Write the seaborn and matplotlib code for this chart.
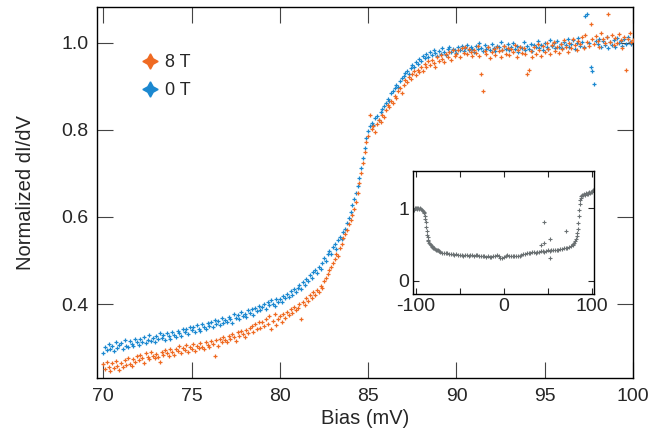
import numpy as np
import matplotlib
matplotlib.use("Agg")
import matplotlib.pyplot as plt
import seaborn as sns
from matplotlib.lines import Line2D
from matplotlib.ticker import FixedLocator

sns.set_style("ticks")
plt.rcParams["font.family"] = ["Liberation Sans", "DejaVu Sans"]

# ── Data ────────────────────────────────────────────────────────────────────
# bias sweep, 70 → 100 mV in 0.1 mV steps (301 samples)
bias = np.round(np.linspace(70.0, 100.0, 301), 1)

didv_0T = [
    0.288, 0.301, 0.294, 0.309, 0.297, 0.305, 0.292, 0.313, 0.300, 0.306,
    0.310, 0.298, 0.318, 0.305, 0.302, 0.316, 0.309, 0.304, 0.319, 0.312,
    0.307, 0.321, 0.314, 0.325, 0.311, 0.318, 0.329, 0.315, 0.322, 0.312,
    0.326, 0.319, 0.334, 0.322, 0.330, 0.318, 0.333, 0.326, 0.321, 0.337,
    0.330, 0.325, 0.339, 0.333, 0.327, 0.342, 0.336, 0.344, 0.332, 0.348,
    0.340, 0.347, 0.336, 0.352, 0.344, 0.339, 0.355, 0.348, 0.343, 0.357,
    0.350, 0.358, 0.347, 0.363, 0.354, 0.361, 0.352, 0.368, 0.357, 0.364,
    0.360, 0.371, 0.365, 0.357, 0.377, 0.368, 0.374, 0.366, 0.381, 0.373,
    0.378, 0.370, 0.386, 0.380, 0.389, 0.376, 0.392, 0.384, 0.396, 0.387,
    0.393, 0.400, 0.389, 0.405, 0.397, 0.409, 0.401, 0.395, 0.412, 0.406,
    0.411, 0.404, 0.419, 0.414, 0.424, 0.417, 0.429, 0.422, 0.434, 0.427,
    0.437, 0.445, 0.434, 0.451, 0.444, 0.458, 0.452, 0.466, 0.461, 0.473,
    0.478, 0.472, 0.486, 0.481, 0.495, 0.505, 0.499, 0.514, 0.522, 0.516,
    0.530, 0.538, 0.527, 0.546, 0.555, 0.549, 0.565, 0.573, 0.587, 0.598,
    0.612, 0.628, 0.641, 0.656, 0.672, 0.690, 0.712, 0.735, 0.758, 0.781,
    0.798, 0.808, 0.815, 0.811, 0.826, 0.832, 0.822, 0.840, 0.848, 0.855,
    0.862, 0.871, 0.866, 0.884, 0.889, 0.896, 0.903, 0.899, 0.912, 0.918,
    0.924, 0.931, 0.936, 0.928, 0.942, 0.948, 0.944, 0.955, 0.951, 0.962,
    0.958, 0.969, 0.965, 0.974, 0.968, 0.979, 0.971, 0.983, 0.976, 0.970,
    0.981, 0.975, 0.987, 0.979, 0.972, 0.985, 0.990, 0.978, 0.986, 0.982,
    0.977, 0.989, 0.984, 0.993, 0.980, 0.987, 0.995, 0.983, 0.990, 0.986,
    0.979, 0.992, 0.985, 0.998, 0.988, 0.981, 0.994, 0.986, 0.991, 0.983,
    0.996, 0.987, 0.980, 0.993, 0.989, 1.001, 0.984, 0.992, 0.986, 0.997,
    0.982, 0.990, 0.999, 0.985, 0.993, 0.978, 0.991, 0.987, 1.002, 0.984,
    0.992, 0.986, 0.997, 0.981, 0.994, 0.989, 1.004, 0.987, 0.995, 0.983,
    0.998, 0.990, 0.985, 1.006, 0.993, 0.999, 0.987, 1.003, 0.991, 0.996,
    0.988, 1.001, 0.994, 1.008, 0.990, 0.997, 1.005, 0.986, 0.999, 1.010,
    0.993, 1.002, 0.989, 1.060, 1.066, 0.998, 0.944, 0.935, 0.905, 1.004,
    0.997, 1.009, 0.991, 1.003, 0.995, 1.012, 0.988, 1.001, 0.994, 1.006,
    0.990, 1.011, 0.998, 1.004, 0.992, 1.008, 0.996, 1.013, 1.002, 0.997,
    1.001,
]

didv_8T = [
    0.262, 0.251, 0.268, 0.256, 0.246, 0.264, 0.253, 0.270, 0.258, 0.249,
    0.265, 0.255, 0.272, 0.260, 0.276, 0.263, 0.257, 0.274, 0.267, 0.280,
    0.271, 0.283, 0.276, 0.266, 0.287, 0.279, 0.273, 0.290, 0.282, 0.276,
    0.286, 0.279, 0.268, 0.291, 0.283, 0.295, 0.287, 0.280, 0.297, 0.291,
    0.284, 0.298, 0.292, 0.303, 0.287, 0.300, 0.295, 0.306, 0.290, 0.302,
    0.297, 0.308, 0.293, 0.304, 0.299, 0.311, 0.302, 0.296, 0.313, 0.306,
    0.301, 0.315, 0.309, 0.281, 0.318, 0.305, 0.321, 0.312, 0.325, 0.317,
    0.312, 0.327, 0.320, 0.332, 0.324, 0.316, 0.335, 0.328, 0.339, 0.331,
    0.325, 0.340, 0.333, 0.345, 0.350, 0.337, 0.354, 0.342, 0.358, 0.346,
    0.360, 0.349, 0.366, 0.354, 0.372, 0.343, 0.362, 0.377, 0.351, 0.365,
    0.372, 0.360, 0.378, 0.369, 0.383, 0.374, 0.388, 0.380, 0.394, 0.386,
    0.392, 0.401, 0.365, 0.406, 0.398, 0.414, 0.407, 0.421, 0.413, 0.427,
    0.420, 0.433, 0.427, 0.441, 0.436, 0.452, 0.461, 0.468, 0.478, 0.486,
    0.495, 0.503, 0.516, 0.510, 0.528, 0.538, 0.551, 0.562, 0.570, 0.583,
    0.592, 0.605, 0.618, 0.635, 0.655, 0.678, 0.700, 0.724, 0.748, 0.772,
    0.786, 0.834, 0.801, 0.808, 0.795, 0.813, 0.822, 0.818, 0.835, 0.829,
    0.846, 0.858, 0.852, 0.866, 0.862, 0.878, 0.873, 0.888, 0.895, 0.884,
    0.902, 0.915, 0.909, 0.922, 0.917, 0.928, 0.934, 0.925, 0.938, 0.932,
    0.943, 0.936, 0.950, 0.944, 0.957, 0.948, 0.961, 0.953, 0.944, 0.966,
    0.958, 0.971, 0.963, 0.955, 0.974, 0.966, 0.978, 0.960, 0.983, 0.969,
    0.975, 0.982, 0.968, 0.987, 0.977, 0.991, 0.973, 0.985, 0.979, 0.970,
    0.983, 0.976, 0.992, 0.969, 0.928, 0.888, 0.981, 0.974, 0.989, 0.965,
    0.978, 0.986, 0.972, 0.990, 0.980, 0.967, 0.984, 0.993, 0.975, 0.988,
    0.971, 0.985, 0.979, 0.994, 0.968, 0.982, 0.990, 0.976, 0.987, 0.973,
    0.929, 0.937, 0.981, 0.966, 0.989, 0.975, 0.996, 0.983, 0.970, 0.992,
    0.979, 0.998, 0.986, 0.973, 0.994, 1.002, 0.981, 0.990, 0.977, 0.997,
    0.985, 1.005, 0.991, 0.978, 1.000, 0.988, 1.008, 0.994, 0.982, 1.003,
    0.996, 1.012, 0.987, 1.018, 1.001, 0.993, 1.042, 1.009, 0.997, 1.015,
    1.004, 0.991, 1.021, 1.008, 0.999, 1.014, 1.065, 1.002, 1.017, 0.994,
    1.010, 0.998, 1.019, 1.006, 0.988, 1.013, 0.937, 1.008, 1.022, 1.001,
    1.006,
]

# inset: full-range spectrum (-100 → 100 mV)
inset_bias = [
    -102, -101, -100, -99, -98, -97, -96, -95, -94, -93, -92, -91, -90,
    -89.5, -89, -88.5, -88, -87.5, -87, -86.5, -86, -85.5, -85,
    -84, -83, -82, -81, -80, -79, -78, -77, -76, -75, -74, -73, -72,
    -70, -68, -66, -64, -62, -60, -58, -56, -54, -52, -50, -48, -46, -44,
    -42, -40, -38, -36, -34, -32, -30, -28, -26, -24, -22, -20, -18, -16,
    -14, -12, -10, -8, -6, -4, -2, 0, 2, 4, 6, 8, 10, 12, 14, 16, 18, 20,
    22, 24, 26, 28, 30, 32, 34, 36, 38, 40, 42, 44, 46, 48, 50, 52, 54,
    56, 58, 60, 62, 64, 66, 68, 70, 72, 74, 76, 78, 79, 80, 81, 82, 83,
    83.5, 84, 84.5, 85, 85.5, 86, 86.5, 87, 88, 89, 90, 91, 92, 93, 94,
    95, 96, 97, 98, 99, 100, 101, 102,
]
inset_didv = [
    0.98, 1.00, 1.01, 0.99, 1.00, 1.01, 0.99, 1.00, 0.99, 0.98, 0.97, 0.95, 0.93,
    0.90, 0.86, 0.81, 0.75, 0.69, 0.64, 0.60, 0.57, 0.55, 0.53,
    0.51, 0.49, 0.48, 0.47, 0.46, 0.45, 0.44, 0.43, 0.42, 0.42, 0.41, 0.41, 0.40,
    0.39, 0.39, 0.38, 0.38, 0.37, 0.37, 0.37, 0.36, 0.37, 0.36, 0.36, 0.36, 0.35, 0.36,
    0.36, 0.35, 0.36, 0.36, 0.35, 0.36, 0.36, 0.35, 0.35, 0.34, 0.34, 0.33, 0.34, 0.33,
    0.33, 0.34, 0.35, 0.36, 0.34, 0.32, 0.31, 0.33, 0.35, 0.36, 0.34, 0.34, 0.34, 0.34, 0.35, 0.35, 0.35, 0.36,
    0.37, 0.37, 0.38, 0.38, 0.39, 0.40, 0.40, 0.39, 0.40, 0.40, 0.41, 0.41, 0.40, 0.41, 0.42, 0.41, 0.42,
    0.42, 0.42, 0.43, 0.43, 0.44, 0.44, 0.45, 0.45, 0.46, 0.47, 0.48, 0.50, 0.51, 0.53, 0.55, 0.58, 0.62,
    0.66, 0.72, 0.80, 0.89, 0.98, 1.06, 1.12, 1.15, 1.17, 1.18, 1.19, 1.20, 1.19, 1.21, 1.20,
    1.21, 1.20, 1.22, 1.21, 1.22, 1.23, 1.25, 1.27,
]
# stray points in the inset
inset_out_bias = [45.4, 46.0, 42.7, 52.2, 52.2, 70.0]
inset_out_didv = [0.81, 0.53, 0.49, 0.585, 0.31, 0.69]

assert len(bias) == len(didv_0T) == len(didv_8T)
assert len(inset_bias) == len(inset_didv)

c_8T = "#ef6a22"
c_0T = "#1b88d0"
c_inset = "#6b7173"
FS = 14.5     # axis labels
TS = 14       # tick labels

# ── Figure ──────────────────────────────────────────────────────────────────
fig = plt.figure(figsize=(6.48, 4.33), dpi=100)
ax = fig.add_axes([0.1497, 0.127, 0.8272, 0.8561])

sns.scatterplot(x=bias, y=didv_0T, marker="+", s=10, linewidth=0.9,
                color=c_0T, ax=ax, legend=False, zorder=2)
sns.scatterplot(x=bias, y=didv_8T, marker="+", s=10, linewidth=0.9,
                color=c_8T, ax=ax, legend=False, zorder=3)

ax.set_xlim(69.64, 100.0)
ax.set_ylim(0.2305, 1.081)
ax.set_xticks([70, 75, 80, 85, 90, 95, 100])
ax.set_yticks([0.4, 0.6, 0.8, 1.0])
ax.set_yticklabels(["0.4", "0.6", "0.8", "1.0"])
ax.tick_params(direction="in", length=11.5, width=0.8, top=True, right=True,
               labelsize=TS, color="#444444")
ax.tick_params(axis="x", pad=7)
ax.tick_params(axis="y", pad=6)
for sp in ax.spines.values():
    sp.set_linewidth(1.0)
    sp.set_color("black")
ax.set_xlabel("Bias (mV)", fontsize=FS, labelpad=3)
ax.set_ylabel("Normalized dI/dV", fontsize=FS, labelpad=19)

star = (4, 1, 0)
handles = [
    Line2D([], [], linestyle="none", marker=star, markersize=11, color=c_8T, label="8 T"),
    Line2D([], [], linestyle="none", marker=star, markersize=11, color=c_0T, label="0 T"),
]
ax.legend(handles=handles, loc="upper left", bbox_to_anchor=(0.069, 0.893),
          frameon=False, fontsize=13, handletextpad=0.3, labelspacing=0.62,
          handlelength=1.0, borderaxespad=0)

# inset
ins = fig.add_axes([0.6378, 0.3210, 0.2793, 0.2848])
sns.scatterplot(x=inset_bias, y=inset_didv, marker="+", s=6, linewidth=0.8,
                color=c_inset, ax=ins, legend=False)
sns.scatterplot(x=inset_out_bias, y=inset_out_didv, marker="+", s=6, linewidth=0.8,
                color=c_inset, ax=ins, legend=False)
ins.set_xlim(-102.7, 102.6)
ins.set_ylim(-0.18, 1.52)
ins.xaxis.set_major_locator(FixedLocator([-100, -50, 0, 50, 100]))
ins.set_xticklabels(["-100", "", "0", "", "100"])
ins.set_yticks([0, 1])
ins.set_yticklabels(["0", "1"])
ins.tick_params(direction="in", length=4, width=0.8, top=True, right=True,
                labelsize=TS, pad=3)
for sp in ins.spines.values():
    sp.set_linewidth(1.0)
    sp.set_color("black")
ins.set_xlabel("")
ins.set_ylabel("")

fig.savefig("out.png", dpi=100)
